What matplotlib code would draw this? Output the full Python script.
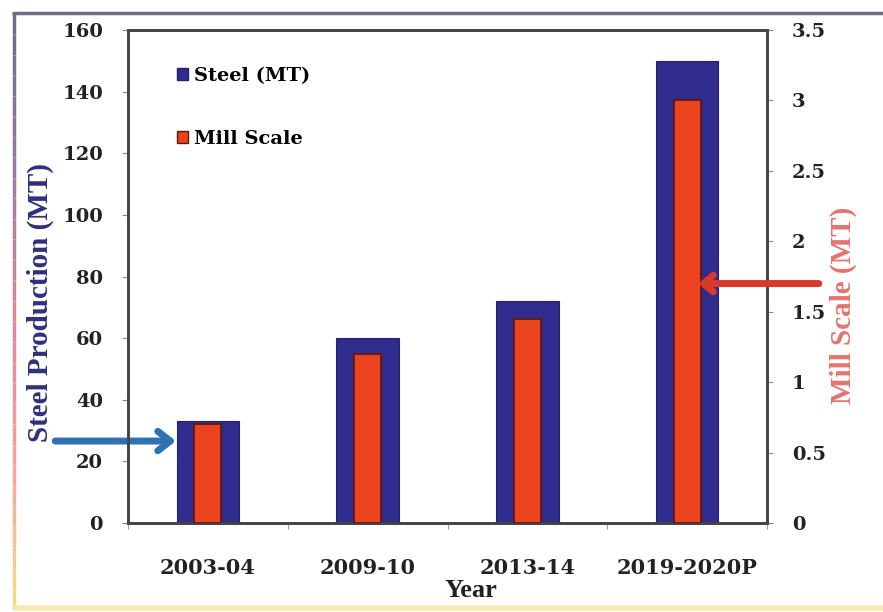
import numpy as np
import matplotlib
matplotlib.use('Agg')
import matplotlib.pyplot as plt
from matplotlib.patches import Patch
from matplotlib.collections import LineCollection
from matplotlib.ticker import FormatStrFormatter


years = ['2003-04', '2009-10', '2013-14', '2019-2020P']
steel_mt = [33, 60, 72, 150]          # steel production, left axis
mill_scale_mt = [0.7, 1.2, 1.45, 3.0]  # mill scale, right axis

STEEL_COLOR = '#302c8e'
MILL_COLOR = '#ea431d'
TICK_FONT = 'DejaVu Serif'
LABEL_FONT = 'Liberation Serif'

fig = plt.figure(figsize=(8.83, 6.12), dpi=100)

# outer frame round the whole chart
fig.add_artist(LineCollection([[(0.014, 0.978), (1.0, 0.978)]], colors='#6d6d80', linewidths=2.5,
                              transform=fig.transFigure))
ys = np.linspace(0.978, 0.005, 30)
segs = [[(0.016, ys[i]), (0.016, ys[i + 1])] for i in range(len(ys) - 1)]
cols = plt.cm.colors.LinearSegmentedColormap.from_list(
    'edge', ['#6d6d88', '#9a7aa0', '#d88a9a', '#f0a0a0', '#f5d890'])(np.linspace(0, 1, len(segs)))
fig.add_artist(LineCollection(segs, colors=cols, linewidths=2.5, transform=fig.transFigure))
fig.add_artist(LineCollection([[(0.016, 0.006), (1.0, 0.006)]], colors='#f7e9b0', linewidths=4,
                              transform=fig.transFigure))

ax = fig.add_axes([0.145, 0.1454, 0.7236, 0.8056])
ax2 = ax.twinx()

x = np.arange(len(years))
ax.bar(x, steel_mt, width=0.39, color=STEEL_COLOR, edgecolor='#24226e', linewidth=0.8, zorder=2)
ax2.bar(x, mill_scale_mt, width=0.17, color=MILL_COLOR, edgecolor='#5c1a12', linewidth=1.3, zorder=3)

ax.set_xlim(-0.5, 3.5)
ax.set_ylim(0, 160)
ax2.set_ylim(0, 3.5)
ax.set_yticks(np.arange(0, 161, 20))
ax2.set_yticks(np.arange(0, 3.51, 0.5))
ax2.yaxis.set_major_formatter(FormatStrFormatter('%g'))

ax.set_xticks(x)
ax.set_xticklabels(years, fontsize=15, fontweight='bold', family=TICK_FONT, color='#222222')
ax.set_xticks(np.arange(-0.5, 3.6, 1), minor=True)
ax.tick_params(axis='x', which='major', length=0, pad=25)
ax.tick_params(axis='x', which='minor', length=4, color='#888888', direction='out')
ax.tick_params(axis='y', length=4, color='#888888', pad=14)
ax2.tick_params(axis='y', length=4, color='#888888', pad=14)
for lab in ax.get_yticklabels() + ax2.get_yticklabels():
    lab.set_fontsize(14)
    lab.set_fontweight('bold')
    lab.set_family(TICK_FONT)
    lab.set_color('#222222')

for a in (ax, ax2):
    for sp in a.spines.values():
        sp.set_color('#444444')
        sp.set_linewidth(2)

ax.set_ylabel('Steel Production (MT)', fontsize=21, fontweight='bold', family=LABEL_FONT,
              color='#2f2f7e', va='center', ha='center')
ax.yaxis.set_label_coords(-0.138, 0.448)
ax2.set_ylabel('Mill Scale (MT)', fontsize=21, fontweight='bold', family=LABEL_FONT, color='#e3736e',
               rotation=90, va='center', ha='center')
ax2.yaxis.set_label_coords(1.119, 0.442)
ax.set_xlabel('Year', fontsize=19, fontweight='bold', family=LABEL_FONT, color='#222222',
              va='center', ha='center')
ax.xaxis.set_label_coords(0.537, -0.136)

handles = [Patch(facecolor=STEEL_COLOR, edgecolor='#24226e'),
           Patch(facecolor=MILL_COLOR, edgecolor='#5c1a12')]
ax.legend(handles, ['Steel (MT)', 'Mill Scale'], loc='upper left', bbox_to_anchor=(0.05, 0.96),
          frameon=False, handlelength=0.55, handleheight=0.55, handletextpad=0.3, labelspacing=2.3,
          prop={'family': TICK_FONT, 'weight': 'bold', 'size': 14})

# arrows pointing at the first steel bar and the last mill scale bar
ax.annotate('', xy=(-0.2, 26.6), xytext=(-0.956, 26.6),
            arrowprops=dict(arrowstyle='->,head_length=0.9,head_width=0.7', color='#2e72b4',
                            lw=5, shrinkA=0, shrinkB=0), annotation_clip=False)
ax2.annotate('', xy=(3.07, 1.7), xytext=(3.825, 1.7),
             arrowprops=dict(arrowstyle='->,head_length=0.7,head_width=0.6', color='#d9382a',
                             lw=5, shrinkA=0, shrinkB=0), annotation_clip=False)

fig.savefig('out.png', dpi=100)
